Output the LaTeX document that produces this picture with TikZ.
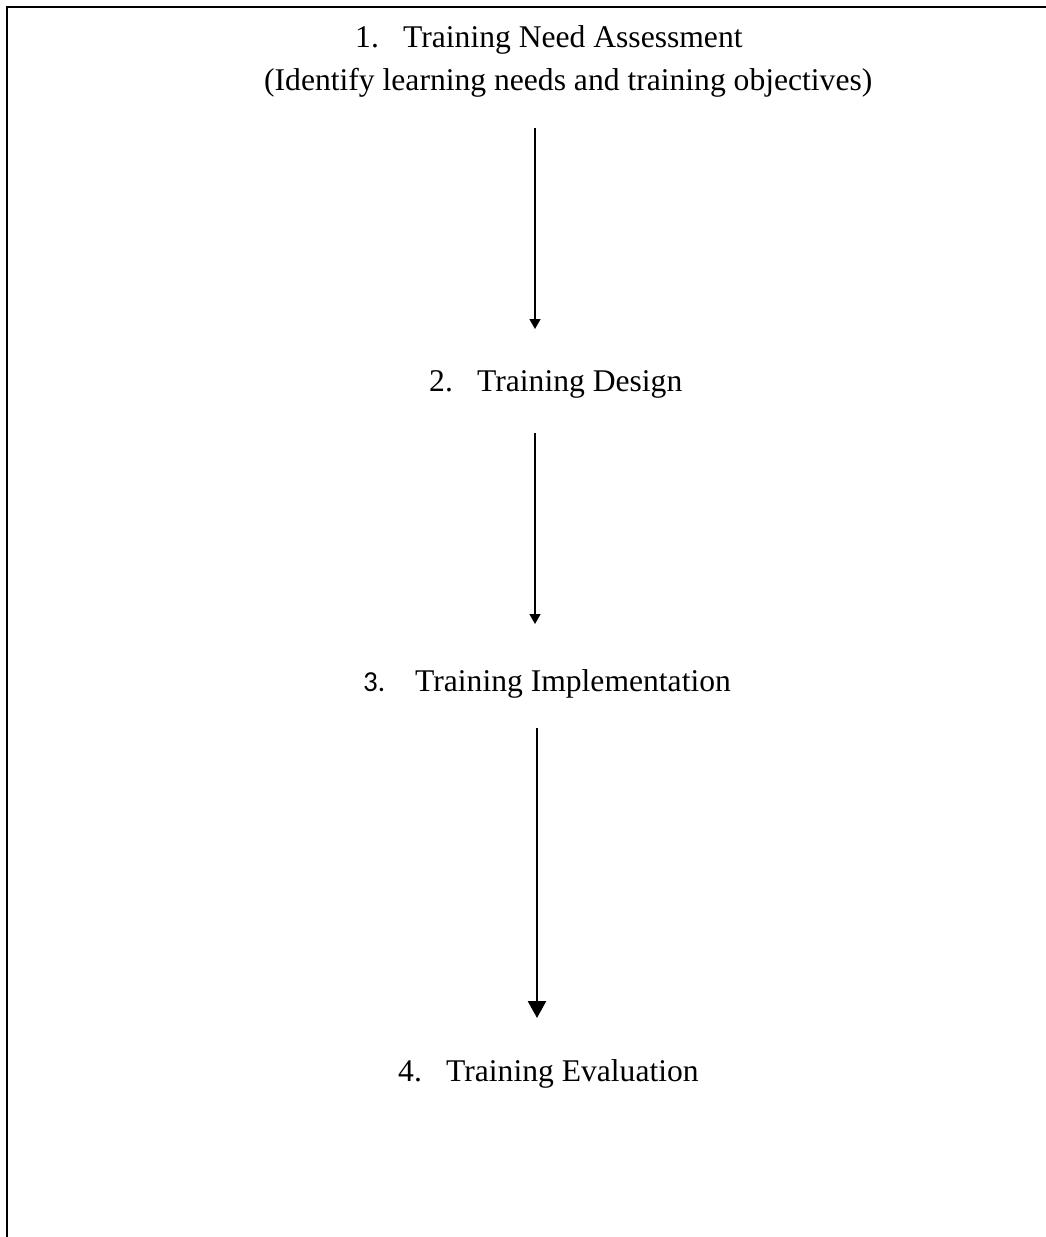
\documentclass[tikz,border=0pt]{standalone}
\usepackage{fontspec}
\setmainfont{Liberation Serif}
\newfontfamily\numsans{Carlito}
\usetikzlibrary{arrows.meta}
\begin{document}
\begin{tikzpicture}[x=1pt,y=-1pt,
  lbl/.style={anchor=base west,inner sep=0pt,font=\fontsize{31.6}{36}\selectfont},
  thinarrow/.style={line width=1.4pt,-{Triangle[length=10pt,width=11pt]}},
  thickarrow/.style={line width=2.6pt,-{Triangle[length=17pt,width=18pt]}},
  frame/.style={line width=2pt}]
\useasboundingbox (0,0) rectangle (1046,1237);
\draw[frame] (7,1237) -- (7,7) -- (1046,7);
% step 1
\node[lbl] (n1) at (355,47) {1.};
\node[lbl] (t1) at (403,47) {Training Need Assessment};
\node[lbl] (t1b) at (264,90) {(Identify learning needs and training objectives)};
% step 2
\node[lbl] (n2) at (429,391) {2.};
\node[lbl] (t2) at (477,391) {Training Design};
% step 3
\node[lbl,font=\numsans\fontsize{29}{34}\selectfont] (n3) at (363,691) {3.};
\node[lbl] (t3) at (415,691) {Training Implementation};
% step 4
\node[lbl] (n4) at (398,1081) {4.};
\node[lbl] (t4) at (446,1081) {Training Evaluation};
% arrows
\coordinate (a1s) at (535,128);
\coordinate (a1e) at (535,329);
\coordinate (a2s) at (535,433);
\coordinate (a2e) at (535,624);
\coordinate (a3s) at (537,728);
\coordinate (a3e) at (537,1018);
\draw[thinarrow] (a1s) -- (a1e);
\draw[thinarrow] (a2s) -- (a2e);
\draw[thickarrow] (a3s) -- (a3e);
\end{tikzpicture}
\end{document}
